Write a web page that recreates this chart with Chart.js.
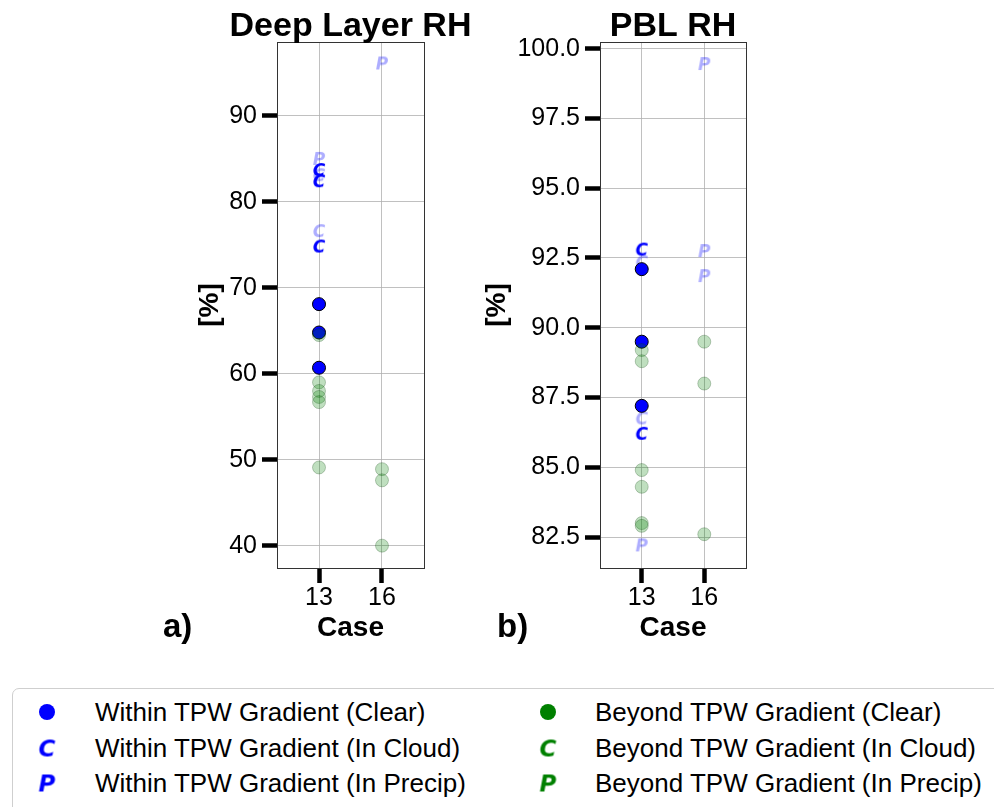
<!DOCTYPE html>
<html>
<head>
<meta charset="utf-8">
<script src="https://cdn.jsdelivr.net/npm/chart.js@4.4.1/dist/chart.umd.min.js"></script>
<style>
  body { margin: 0; background: #fff; width: 994px; height: 807px; overflow: hidden; position: relative;
         font-family: 'Liberation Sans', Arial, sans-serif; }
  #wrapA { position: absolute; left: 150px; top: 0; width: 370px; height: 660px; }
  #wrapB { position: absolute; left: 460px; top: 0; width: 306px; height: 660px; }
  #legend { position: absolute; left: 12px; top: 688px; width: 1000px; height: 140px;
            border: 1px solid #cfcfcf; border-radius: 7px; box-sizing: border-box; }
  .lg-mark { position: absolute; transform: translate(-50%, -50%); }
  .lg-text { position: absolute; font-size: 26px; color: #000; transform: translateY(-50%); white-space: nowrap; }
</style>
</head>
<body>
<div id="wrapA"><canvas id="deepChart"></canvas></div>
<div id="wrapB"><canvas id="pblChart"></canvas></div>
<div id="legend"></div>
<script>
const caseLabels = ['13', '16'];
const caseIndex = [0, 1];

const deepTicks = [40, 50, 60, 70, 80, 90];
const pblTicks = [82.5, 85.0, 87.5, 90.0, 92.5, 95.0, 97.5, 100.0];

// Deep layer RH [%], split by case (13 / 16)
const deepWithinClear13 = [68.1, 64.8, 60.7];
const deepWithinCloud13 = [83.7, 82.4, 74.8];
const deepWithinCloudFaint13 = [83.1, 76.6];
const deepWithinPrecipFaint13 = [85.0];
const deepWithinPrecipFaint16 = [96.1];
const deepBeyondClear13 = [64.5, 59.0, 58.0, 57.3, 56.7, 49.1];
const deepBeyondClear16 = [48.9, 47.6, 40.0];

// PBL RH [%]
const pblWithinClear13 = [92.1, 89.5, 87.2];
const pblWithinCloud13 = [92.8, 86.2];
const pblWithinCloudFaint13 = [92.35, 86.75];
const pblWithinPrecipFaint13 = [82.2];
const pblWithinPrecipFaint16 = [99.45, 92.75, 91.85];
const pblBeyondClear13 = [89.2, 88.8, 84.9, 84.3, 83.0, 82.9];
const pblBeyondClear16 = [89.5, 88.0, 82.6];

const legendLabels = [
  'Within TPW Gradient (Clear)', 'Within TPW Gradient (In Cloud)', 'Within TPW Gradient (In Precip)',
  'Beyond TPW Gradient (Clear)', 'Beyond TPW Gradient (In Cloud)', 'Beyond TPW Gradient (In Precip)'
];

const BLUE = '#0000ff';
const BLUE_FAINT = 'rgba(0,0,255,0.32)';
const GREEN = '#008000';

Chart.defaults.font.family = "'Liberation Sans', Arial, sans-serif";
Chart.defaults.color = '#000';

function pts(at13, at16) {
  return (at13 || []).map((y) => ({ x: 0, y })).concat((at16 || []).map((y) => ({ x: 1, y })));
}

function glyph(letter, color, px) {
  const c = document.createElement('canvas');
  const s = Math.ceil(px * 1.4);
  c.width = s;
  c.height = s;
  const g = c.getContext('2d');
  g.font = `italic bold ${px}px "DejaVu Sans"`;
  g.fillStyle = color;
  g.textAlign = 'center';
  g.textBaseline = 'alphabetic';
  g.fillText(letter, s / 2, s / 2 + px * 0.365);
  return c;
}

function dot(color, r) {
  const c = document.createElement('canvas');
  c.width = c.height = r * 2 + 2;
  const g = c.getContext('2d');
  g.fillStyle = color;
  g.beginPath();
  g.arc(r + 1, r + 1, r, 0, Math.PI * 2);
  g.fill();
  return c;
}

const framePlugin = {
  id: 'frame',
  afterDraw(chart) {
    const { ctx, chartArea: a } = chart;
    ctx.save();
    ctx.strokeStyle = '#333';
    ctx.lineWidth = 1;
    ctx.strokeRect(Math.round(a.left) + 0.5, Math.round(a.top) + 0.5,
      Math.round(a.right - a.left), Math.round(a.bottom - a.top));
    ctx.restore();
  }
};

// panel title centred over the plot area, plus the a)/b) tag
const panelTextPlugin = {
  id: 'panelText',
  afterDraw(chart, args, opts) {
    const { ctx, chartArea: a } = chart;
    ctx.save();
    ctx.fillStyle = '#000';
    ctx.font = "bold 34px 'Liberation Sans', Arial, sans-serif";
    ctx.textAlign = 'center';
    ctx.textBaseline = 'alphabetic';
    ctx.fillText(opts.title, (a.left + a.right) / 2, 36);
    ctx.font = "bold 33px 'Liberation Sans', Arial, sans-serif";
    ctx.textAlign = 'left';
    ctx.fillText(opts.tag, opts.tagX, 637);
    ctx.restore();
  }
};

function makePanel(id, cfg) {
  const scatterSet = (data, extra) => Object.assign({ data, pointRadius: 6.5, borderWidth: 1 }, extra);
  new Chart(document.getElementById(id), {
    type: 'scatter',
    data: {
      datasets: [
        scatterSet(cfg.beyondClear, { backgroundColor: 'rgba(0,128,0,0.25)', borderColor: 'rgba(0,60,0,0.25)', order: 0 }),
        scatterSet(cfg.withinClear, { backgroundColor: BLUE, borderColor: '#000', order: 1 }),
        scatterSet(cfg.withinCloud, { pointStyle: glyph('C', BLUE, 17), order: 2 }),
        scatterSet(cfg.withinCloudFaint, { pointStyle: glyph('C', BLUE_FAINT, 17), order: 3 }),
        scatterSet(cfg.withinPrecipFaint, { pointStyle: glyph('P', BLUE_FAINT, 17), order: 3 })
      ]
    },
    options: {
      responsive: true,
      maintainAspectRatio: false,
      animation: false,
      events: [],
      layout: { padding: { left: 0, right: cfg.padRight, top: 42, bottom: 0 } },
      plugins: {
        legend: { display: false },
        tooltip: { enabled: false },
        title: { display: false },
        panelText: { title: cfg.title, tag: cfg.tag, tagX: cfg.tagX }
      },
      scales: {
        x: {
          type: 'linear',
          min: -0.667,
          max: 1.667,
          afterBuildTicks: (scale) => { scale.ticks = caseIndex.map((value) => ({ value })); },
          afterFit: (scale) => { scale.height = 92; },
          ticks: { callback: (v, i) => caseLabels[i], font: { size: 25 }, padding: 0, color: '#000', maxRotation: 0 },
          grid: { color: 'rgba(176,176,176,0.8)', lineWidth: 1, tickColor: '#000', tickWidth: 4.5, tickLength: 15 },
          border: { display: false },
          title: { display: true, text: 'Case', font: { size: 28, weight: 'bold' }, padding: { top: 0, bottom: 14.7 }, color: '#000' }
        },
        y: {
          min: cfg.yMin,
          max: cfg.yMax,
          afterBuildTicks: (scale) => { scale.ticks = cfg.yTicks.map((value) => ({ value })); },
          afterFit: (scale) => { scale.width = cfg.yWidth; },
          ticks: { callback: cfg.yFmt, font: { size: 25 }, padding: 5, color: '#000' },
          grid: { color: 'rgba(176,176,176,0.8)', lineWidth: 1, tickColor: '#000', tickWidth: 4.5, tickLength: 15 },
          border: { display: false },
          title: { display: true, text: '[%]', font: { size: 28, weight: 'bold' }, padding: { top: cfg.yTitlePad, bottom: 0 }, color: '#000' }
        }
      }
    },
    plugins: [framePlugin, panelTextPlugin]
  });
}

makePanel('deepChart', {
  title: 'Deep Layer RH', tag: 'a)', tagX: 13,
  yMin: 37.4, yMax: 98.6, yTicks: deepTicks, yFmt: (v) => String(v),
  yWidth: 127, yTitlePad: 43.2, padRight: 96,
  withinClear: pts(deepWithinClear13),
  withinCloud: pts(deepWithinCloud13),
  withinCloudFaint: pts(deepWithinCloudFaint13),
  withinPrecipFaint: pts(deepWithinPrecipFaint13, deepWithinPrecipFaint16),
  beyondClear: pts(deepBeyondClear13, deepBeyondClear16)
});

makePanel('pblChart', {
  title: 'PBL RH', tag: 'b)', tagX: 37,
  yMin: 81.39, yMax: 100.24, yTicks: pblTicks, yFmt: (v) => v.toFixed(1),
  yWidth: 140, yTitlePad: 20.2, padRight: 20,
  withinClear: pts(pblWithinClear13),
  withinCloud: pts(pblWithinCloud13),
  withinCloudFaint: pts(pblWithinCloudFaint13),
  withinPrecipFaint: pts(pblWithinPrecipFaint13, pblWithinPrecipFaint16),
  beyondClear: pts(pblBeyondClear13, pblBeyondClear16)
});

// legend, two columns of three
const legendMarks = [
  dot(BLUE, 8), glyph('C', BLUE, 23), glyph('P', BLUE, 23),
  dot(GREEN, 8), glyph('C', GREEN, 23), glyph('P', GREEN, 23)
];
const legendBox = document.getElementById('legend');
legendLabels.forEach((label, i) => {
  const col = Math.floor(i / 3);
  const row = i % 3;
  const cy = 23 + row * 35.5;
  const mark = legendMarks[i];
  mark.className = 'lg-mark';
  mark.style.left = (34 + col * 501) + 'px';
  mark.style.top = cy + 'px';
  legendBox.appendChild(mark);
  const t = document.createElement('div');
  t.className = 'lg-text';
  t.textContent = label;
  t.style.left = (82 + col * 500) + 'px';
  t.style.top = cy + 'px';
  legendBox.appendChild(t);
});
</script>
</body>
</html>
